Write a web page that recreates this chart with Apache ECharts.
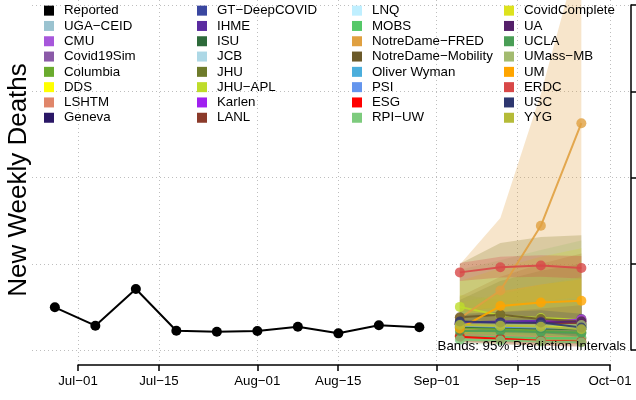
<!DOCTYPE html>
<html><head><meta charset="utf-8">
<script src="https://cdn.jsdelivr.net/npm/echarts@6/dist/echarts.min.js"></script>
<style>html,body{margin:0;padding:0;background:#fff}#c{width:636px;height:400px}</style>
</head><body><div id="c"></div>
<script>
// ---------------- data ----------------
const reportedDates = ['2020-06-27','2020-07-04','2020-07-11','2020-07-18','2020-07-25','2020-08-01','2020-08-08','2020-08-15','2020-08-22','2020-08-29'];
const reportedValues = [49.5, 28.2, 70.7, 22.4, 21.2, 22.0, 27.0, 19.3, 28.6, 26.3];
const forecastDates = ['2020-09-05','2020-09-12','2020-09-19','2020-09-26'];
const modelNames = ['UGA-CEID','CMU','Covid19Sim','Columbia','DDS','LSHTM','Geneva',
  'GT-DeepCOVID','IHME','ISU','JCB','JHU','JHU-APL','Karlen','LANL',
  'LNQ','MOBS','NotreDame-FRED','NotreDame-Mobility','Oliver Wyman','PSI','ESG','RPI-UW',
  'CovidComplete','UA','UCLA','UMass-MB','UM','ERDC','USC','YYG'];
const pointValues = [
  [28,27,26,25],[30,29,28,28],[31,32,33,34],[26,24,22,20],[29,28,27,27],[17,16,15,14],[30,29,28,27],
  [32,31,30,30],[32,33,34,36],[27,26,25,24],[29,28,27,26],[31,30,29,29],[50,40,37,35],[31,32,33,35],[30,30,31,31],
  [29,28,27,26],[16,15,14,14],[37,69,144,263],[38,41,36,33],[30,29,28,27],[28,27,26,26],[15.4,13.1,10.8,9.6],[12,11,10,9],
  [29,28,28,27],[30,31,32,33],[22,22,21,20],[30,30,29,29],[25,51,55,57],[90,96,98,95],[33,32,32,26],[29,28,27,24]];
const lowerValues = [
  [18,15,13,11],[20,17,15,13],[22,20,19,18],[18,14,11,9],[20,17,15,13],[10,8,7,6],[24,22,20,18],
  [22,19,17,15],[26,25,25,25],[20,17,15,13],[20,17,14,12],[15,12,10,8],[38,28,24,20],[24,22,21,20],[12,10,9,8],
  [19,16,14,12],[10,9,8,7],[18,20,22,25],[22,20,17,15],[20,17,14,12],[18,15,13,11],[9,7,5,4],[7,6,5,4],
  [15,12,10,8],[22,20,19,18],[15,13,11,10],[16,14,12,10],[15,35,36,35],[80,84,85,83],[25,22,20,15],[20,17,15,12]];
const upperValues = [
  [40,42,44,46],[42,46,50,54],[42,48,54,60],[36,38,40,42],[40,43,46,50],[26,28,30,32],[37,38,39,40],
  [45,50,55,60],[40,44,48,52],[36,38,40,42],[40,43,46,50],[100,124,131,133],[64,58,56,55],[40,44,48,52],[62,85,100,112],
  [44,50,55,60],[24,25,26,27],[99,153,297,470],[58,80,92,100],[44,50,56,62],[42,48,54,60],[22,21,20,19],[20,21,22,23],
  [80,95,108,118],[40,44,48,52],[30,32,34,36],[93,104,116,127],[36,68,76,82],[101,108,110,109],[42,44,46,42],[55,65,75,85]];
const xTickDates = ['2020-07-01','2020-07-15','2020-08-01','2020-08-15','2020-09-01','2020-09-15','2020-10-01'];
const yTickValues = [0,100,200,300,400];
const yTitle = 'New Weekly Deaths';
const bandNote = 'Bands: 95% Prediction Intervals';

// ---------------- styles ----------------
const modelColors = ['#9BC3D0','#A757DB','#8B5AA8','#6AAB2E','#FFFF00','#E0866A','#2A1766',
  '#3A47A0','#5A2BA0','#2D6A3A','#ADD8E6','#6E7B2B','#BEDC2A','#A020F0','#8B3A2A',
  '#BFEFFF','#55C868','#E0A040','#6B5A2A','#4BAEDC','#6495ED','#FF0000','#7DCB7D',
  '#DDE21E','#55206A','#4A9E56','#A3BB70','#FFA500','#D84848','#2E3770','#B5BB38'];
const FONT = '"Liberation Sans", Arial, Helvetica, sans-serif';
const DAY = 86400000;
const t = s => Date.parse(s);
const MON = ['Jan','Feb','Mar','Apr','May','Jun','Jul','Aug','Sep','Oct','Nov','Dec'];
const fmtDate = v => { const d = new Date(v); return MON[d.getUTCMonth()] + '\u2212' + String(d.getUTCDate()).padStart(2,'0'); };
const minus = s => s.replace(/-/g, '\u2212');
function rgba(hex, a) {
  const n = parseInt(hex.slice(1), 16);
  return 'rgba(' + (n >> 16 & 255) + ',' + (n >> 8 & 255) + ',' + (n & 255) + ',' + a + ')';
}

const chart = echarts.init(document.getElementById('c'), null, {renderer: 'canvas'});

const series = [];
modelNames.forEach((name, i) => {
  const lo = lowerValues[i], hi = upperValues[i];
  series.push({
    type: 'custom', name: name + ' band', silent: true, xAxisIndex: 0, yAxisIndex: 0,
    data: forecastDates.map((d, j) => [t(d), lo[j], hi[j]]),
    renderItem: (params, api) => {
      if (params.dataIndex !== 0) return null;
      const pts = [];
      forecastDates.forEach((d, j) => pts.push(api.coord([t(d), hi[j]])));
      for (let j = forecastDates.length - 1; j >= 0; j--) pts.push(api.coord([t(forecastDates[j]), lo[j]]));
      return {type: 'polygon', shape: {points: pts}, style: {fill: rgba(modelColors[i], 0.27), stroke: null}};
    }
  });
});
modelNames.forEach((name, i) => {
  series.push({
    type: 'line', name: name, xAxisIndex: 0, yAxisIndex: 0,
    data: forecastDates.map((d, j) => [t(d), pointValues[i][j]]),
    symbol: 'circle', symbolSize: 10, color: modelColors[i],
    lineStyle: {width: 2, opacity: 0.9}, itemStyle: {opacity: 0.8}
  });
});
series.push({
  type: 'line', name: 'Reported', xAxisIndex: 0, yAxisIndex: 0,
  data: reportedDates.map((d, j) => [t(d), reportedValues[j]]),
  symbol: 'circle', symbolSize: 10, color: '#000', lineStyle: {width: 2}
});

const legendNames = ['Reported'].concat(modelNames);
const legendLefts = [44, 197, 352, 504];
const legends = legendLefts.map((left, k) => ({
  orient: 'vertical', left: left, top: 3, padding: 0, itemGap: 0,
  itemWidth: 10, itemHeight: 10, icon: 'rect', selectedMode: false,
  itemStyle: {opacity: 1, borderWidth: 0},
  formatter: minus,
  textStyle: {fontFamily: FONT, fontSize: 13.3, color: '#000', lineHeight: 15.3, padding: [0, 0, 0, 5]},
  data: legendNames.slice(k * 8, k * 8 + 8)
}));

const gridLine = {show: true, lineStyle: {color: '#BEBEBE', type: [1, 3], width: 1}};

chart.setOption({
  animation: false,
  backgroundColor: '#fff',
  textStyle: {fontFamily: FONT},
  grid: [
    {left: 32, right: 5, top: 0, bottom: 50},
    {left: 78, right: 26, top: 0, bottom: 35},
    {left: 600, right: 5, top: 5, bottom: 50}
  ],
  xAxis: [
    {type: 'value', gridIndex: 0, show: false, min: t('2020-07-01') - 7.95 * DAY, max: t('2020-10-01') + 3.58 * DAY},
    {type: 'value', gridIndex: 1, min: t('2020-07-01'), max: t('2020-10-01'), position: 'bottom',
      axisLine: {show: true, onZero: false, lineStyle: {color: '#000', width: 1.5}},
      axisTick: {show: true, length: 6, lineStyle: {color: '#000', width: 1.5}, customValues: xTickDates.map(t)},
      axisLabel: {show: true, margin: 10, fontSize: 13.3, color: '#000', fontFamily: FONT, formatter: fmtDate, customValues: xTickDates.map(t), showMinLabel: true, showMaxLabel: true},
      splitLine: gridLine},
    {type: 'value', gridIndex: 2, show: false, min: 0, max: 1}
  ],
  yAxis: [
    {type: 'value', gridIndex: 0, min: 0, max: 405.8, interval: 100,
      axisLine: {show: false}, axisTick: {show: false}, axisLabel: {show: false},
      splitLine: Object.assign({showMaxLine: false}, gridLine)},
    {type: 'value', gridIndex: 1, show: false},
    {type: 'value', gridIndex: 2, position: 'right', min: 0, max: 400, interval: 100,
      axisLine: {show: true, onZero: false, lineStyle: {color: '#000', width: 1.5}},
      axisTick: {show: true, inside: false, length: 6, lineStyle: {color: '#000', width: 1.5}},
      axisLabel: {show: false}, splitLine: {show: false}}
  ],
  legend: legends,
  title: {text: bandNote, right: 10, top: 340, padding: 0,
    textStyle: {fontFamily: FONT, fontSize: 13.3, fontWeight: 'normal', color: '#000'}},
  graphic: [{type: 'text', x: 19, y: 180, rotation: Math.PI / 2, silent: true,
    style: {text: yTitle, font: '26px ' + FONT, fill: '#000', textAlign: 'center', textVerticalAlign: 'middle'}}],
  series: series
});
</script></body></html>
